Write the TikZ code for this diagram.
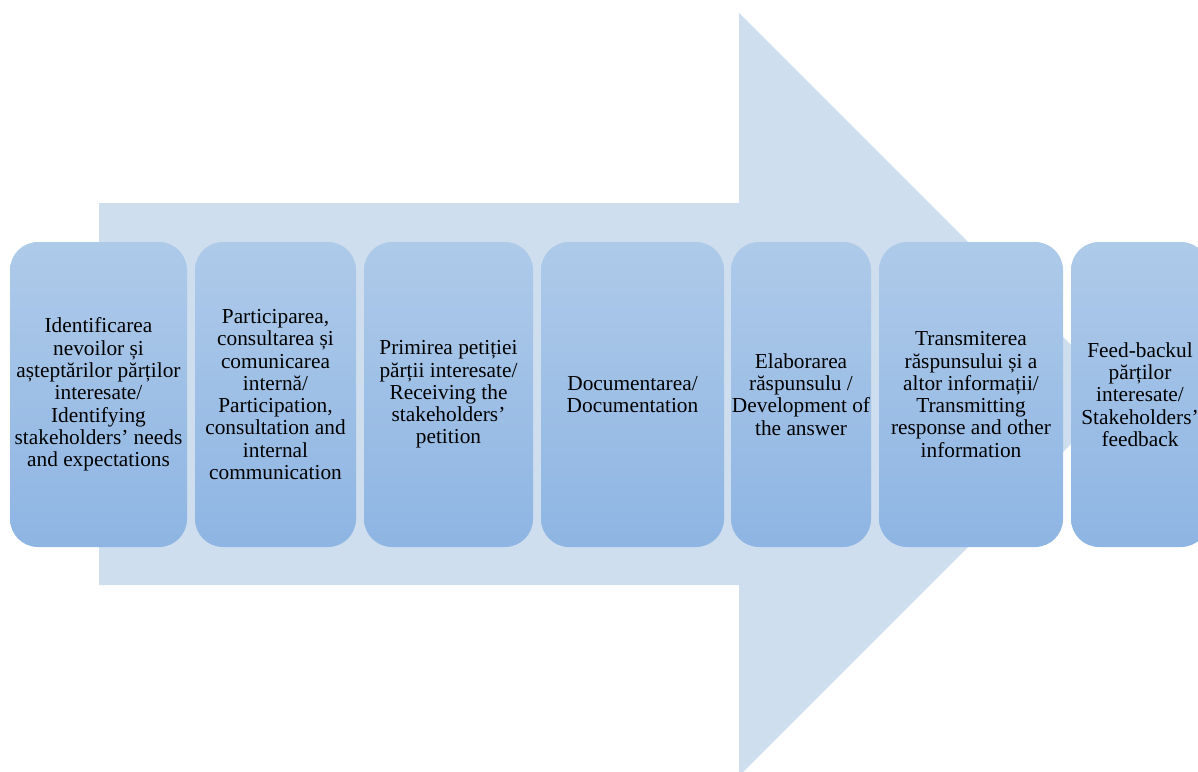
\documentclass[tikz,border=0pt]{standalone}
\usepackage{fontspec}
\setmainfont{Liberation Serif}
\definecolor{arrowfill}{HTML}{CEDEEE}
\definecolor{boxtop}{HTML}{AECAE9}
\definecolor{boxbot}{HTML}{8EB5E3}
\begin{document}
\begin{tikzpicture}[x=0.75pt,y=-0.75pt,
  stepbox/.style={rectangle, rounded corners=21pt, top color=boxtop, bottom color=boxbot,
    draw=none, minimum height=228.75pt, inner sep=0pt, align=center,
    font=\fontsize{16}{16.7}\selectfont, text=black},
]
\useasboundingbox (0,0) rectangle (1198,771);
\clip (0,0) rectangle (1198,771);
\fill[arrowfill] (99,203) -- (739,203) -- (739,13) -- (1120.5,394.5) -- (739,776) -- (739,585) -- (99,585) -- cycle;
\node[stepbox, minimum width=132.75pt] (s1) at (98.5,394.5) {Identificarea\\nevoilor și\\așteptărilor părților\\interesate/\\Identifying\\stakeholders’ needs\\and expectations};
\node[stepbox, minimum width=120.75pt] (s2) at (275.5,394.5) {Participarea,\\consultarea și\\comunicarea\\internă/\\Participation,\\consultation and\\internal\\communication};
\node[stepbox, minimum width=126.75pt] (s3) at (448.5,394.5) {Primirea petiției\\părții interesate/\\Receiving the\\stakeholders’\\petition};
\node[stepbox, minimum width=137.25pt] (s4) at (632.5,394.5) {Documentarea/\\Documentation};
\node[stepbox, minimum width=105pt] (s5) at (801,394.5) {Elaborarea\\răspunsulu /\\Development of\\the answer};
\node[stepbox, minimum width=138pt] (s6) at (971,394.5) {Transmiterea\\răspunsului și a\\altor informații/\\Transmitting\\response and other\\information};
\node[stepbox, minimum width=103.5pt] (s7) at (1140,394.5) {Feed-backul\\părților\\interesate/\\Stakeholders’\\feedback};
\end{tikzpicture}
\end{document}
